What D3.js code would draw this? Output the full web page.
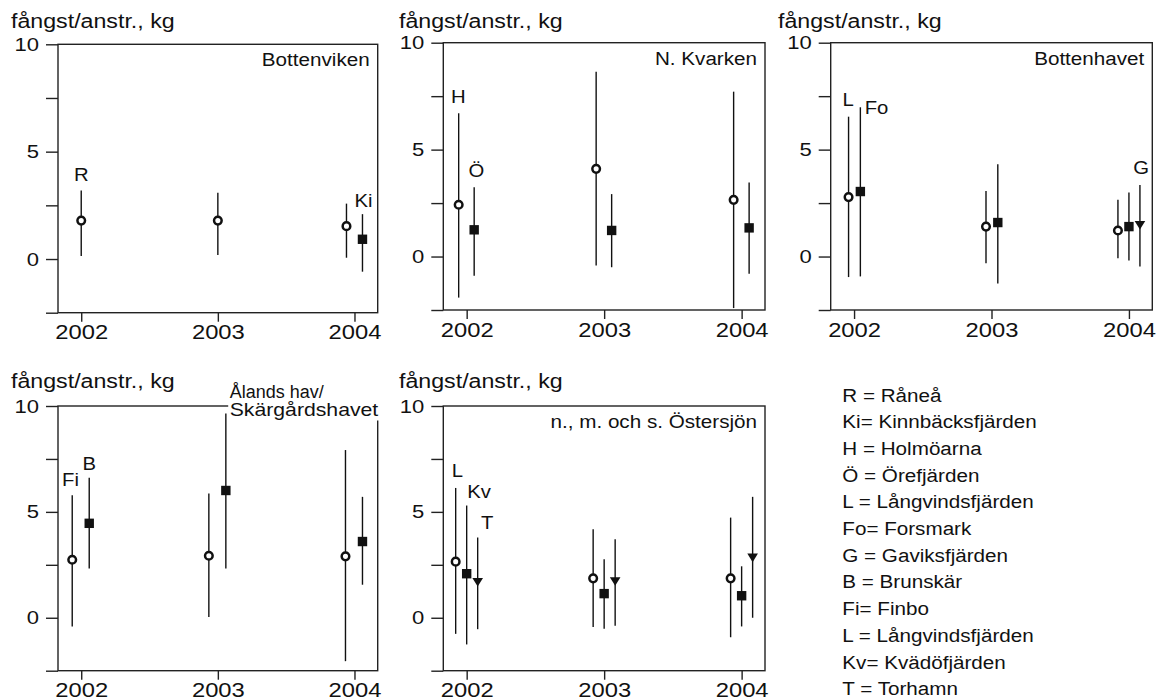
<!DOCTYPE html>
<html>
<head>
<meta charset="utf-8">
<script src="https://cdn.jsdelivr.net/npm/d3@7"></script>
<style>
  body { margin: 0; background: #fff; }
  svg text { font-family: "Liberation Sans", Arial, Helvetica, sans-serif; fill: #111; }
</style>
</head>
<body>
<svg id="chart" width="1167" height="700"></svg>
<script>
// ---- data -------------------------------------------------------------
const years = [2002, 2003, 2004];
const xTickLabels = ["2002", "2003", "2004"];
const yTickValues = [-2.5, 0, 2.5, 5, 7.5, 10];
const yTickLabels = ["", "0", "", "5", "", "10"];
const yAxisTitle = "fångst/anstr., kg";

// Bottenviken
const bottenvikenSites   = ["R", "Ki"];
const bottenvikenMarkers = ["circle", "square"];
const bottenvikenMean = [[1.79, 1.79, 1.53], [null, null, 0.92]];
const bottenvikenLow  = [[0.14, 0.19, 0.06], [null, null, -0.59]];
const bottenvikenHigh = [[3.19, 3.09, 2.58], [null, null, 2.09]];

// N. Kvarken
const kvarkenSites   = ["H", "Ö"];
const kvarkenMarkers = ["circle", "square"];
const kvarkenMean = [[2.42, 4.10, 2.65], [1.25, 1.22, 1.34]];
const kvarkenLow  = [[-1.92, -0.42, -2.41], [-0.90, -0.50, -0.81]];
const kvarkenHigh = [[6.70, 8.64, 7.71], [3.24, 2.92, 3.46]];

// Bottenhavet
const bottenhavetSites   = ["L", "Fo", "G"];
const bottenhavetMarkers = ["circle", "square", "triangle"];
const bottenhavetMean = [[2.78, 1.40, 1.22], [3.04, 1.59, 1.40], [null, null, 1.48]];
const bottenhavetLow  = [[-0.96, -0.31, -0.08], [-0.93, -1.26, -0.19], [null, null, -0.47]];
const bottenhavetHigh = [[6.54, 3.07, 2.65], [6.98, 4.32, 2.99], [null, null, 3.35]];

// Ålands hav / Skärgårdshavet
const alandSites   = ["Fi", "B"];
const alandMarkers = ["circle", "square"];
const alandMean = [[2.74, 2.93, 2.90], [4.46, 6.01, 3.60]];
const alandLow  = [[-0.41, 0.03, -2.05], [2.33, 2.33, 1.56]];
const alandHigh = [[5.79, 5.87, 7.92], [6.61, 9.64, 5.71]];

// n., m. och s. Östersjön
const ostersjonSites   = ["L", "Kv", "T"];
const ostersjonMarkers = ["circle", "square", "triangle"];
const ostersjonMean = [[2.65, 1.86, 1.86], [2.08, 1.14, 1.04], [1.69, 1.73, 2.84]];
const ostersjonLow  = [[-0.76, -0.44, -0.92], [-1.26, -0.52, -0.41], [-0.54, -0.38, 0.00]];
const ostersjonHigh = [[6.13, 4.18, 4.73], [5.30, 2.76, 2.43], [3.79, 3.71, 5.71]];

const regionTitles = [
  ["Bottenviken"],
  ["N. Kvarken"],
  ["Bottenhavet"],
  ["Ålands hav/", "Skärgårdshavet"],
  ["n., m. och s. Östersjön"]
];

const legendLines = [
  "R = Råneå",
  "Ki= Kinnbäcksfjärden",
  "H = Holmöarna",
  "Ö = Örefjärden",
  "L = Långvindsfjärden",
  "Fo= Forsmark",
  "G = Gaviksfjärden",
  "B = Brunskär",
  "Fi= Finbo",
  "L = Långvindsfjärden",
  "Kv= Kvädöfjärden",
  "T = Torhamn"
];

const panels = [
  { sites: bottenvikenSites, markers: bottenvikenMarkers, mean: bottenvikenMean, low: bottenvikenLow, high: bottenvikenHigh },
  { sites: kvarkenSites, markers: kvarkenMarkers, mean: kvarkenMean, low: kvarkenLow, high: kvarkenHigh },
  { sites: bottenhavetSites, markers: bottenhavetMarkers, mean: bottenhavetMean, low: bottenhavetLow, high: bottenhavetHigh },
  { sites: alandSites, markers: alandMarkers, mean: alandMean, low: alandLow, high: alandHigh },
  { sites: ostersjonSites, markers: ostersjonMarkers, mean: ostersjonMean, low: ostersjonLow, high: ostersjonHigh }
];

// ---- layout -----------------------------------------------------------
const SX = 1.16;                 // horizontal stretch applied to all text
const FRAME = "#222";
const INK = "#111";

const panelBoxes = [
  { left: 58,    right: 377.7,  top: 44.3, bottom: 312.7, titleX: 11,  titleY: 28 },
  { left: 443.3, right: 765,    top: 42.7, bottom: 310,   titleX: 399, titleY: 28 },
  { left: 830.7, right: 1152.3, top: 42.7, bottom: 310,   titleX: 778, titleY: 28 },
  { left: 58,    right: 377.7,  top: 406,  bottom: 670.7, titleX: 11,  titleY: 388 },
  { left: 443.3, right: 765,    top: 406,  bottom: 670.7, titleX: 399, titleY: 388 }
];

// horizontal spread (px) of markers sharing a year
const pairOffsets = [[-8, 8], [-8, 7.5], [-5.5, 6.3], [-9, 8], [-8, 8]];
const tripleOffsets = [-11, 0, 11];

// site-code annotations: year, px shift from that year's tick, y value of label centre
const siteLabelPlacement = [
  [[2002, 0, 3.94], [2004, 9, 2.70]],
  [[2002, -8.3, 7.46], [2002, 9.7, 4.02]],
  [[2002, -6, 7.32], [2002, 22.4, 6.95], [2004, 12.3, 4.13]],
  [[2002, -10.7, 6.50], [2002, 8, 7.29]],
  [[2002, -9.4, 6.94], [2002, 12.3, 5.94], [2002, 20.6, 4.48]]
];

const svg = d3.select("#chart");

function addText(parent, tx, ty, str, size, anchor, fitWidth) {
  const t = parent.append("text")
    .attr("transform", `translate(${tx},${ty}) scale(${SX},1)`)
    .attr("text-anchor", anchor || "start")
    .style("font-size", size + "px")
    .text(str);
  if (fitWidth) t.attr("textLength", fitWidth / SX).attr("lengthAdjust", "spacingAndGlyphs");
  return t;
}

const xBase = d3.scaleLinear().domain([2001.83, 2004.17]);
const yBase = d3.scaleLinear().domain([-2.5, 10]);

panels.forEach((p, pi) => {
  const box = panelBoxes[pi];
  const xs = xBase.copy().range([box.left, box.right]);
  const ys = yBase.copy().range([box.bottom, box.top]);
  const g = svg.append("g");

  // y axis
  const yAxis = d3.axisLeft(ys)
    .tickValues(yTickValues)
    .tickFormat((d, i) => yTickLabels[i])
    .tickSize(12)
    .tickPadding(7);
  const ya = g.append("g").attr("transform", `translate(${box.left},0)`).call(yAxis);
  ya.attr("font-size", null).attr("font-family", null);
  ya.select(".domain").remove();
  ya.selectAll(".tick line").attr("stroke", FRAME).attr("stroke-width", 1.4);
  ya.selectAll(".tick text").each(function () {
    const t = d3.select(this);
    t.attr("x", +t.attr("x") / SX).attr("transform", `scale(${SX},1)`)
     .style("font-size", "19px").attr("fill", INK);
  });

  // x axis
  const xAxis = d3.axisBottom(xs)
    .tickValues(years)
    .tickFormat((d, i) => xTickLabels[i])
    .tickSize(9)
    .tickPadding(3);
  const xa = g.append("g").attr("transform", `translate(0,${box.bottom})`).call(xAxis);
  xa.attr("font-size", null).attr("font-family", null);
  xa.select(".domain").remove();
  xa.selectAll(".tick line").attr("stroke", FRAME).attr("stroke-width", 1.4);
  xa.selectAll(".tick text").attr("transform", `scale(${SX},1)`)
    .style("font-size", "20.5px").attr("fill", INK);

  // frame
  g.append("rect")
    .attr("x", box.left).attr("y", box.top)
    .attr("width", box.right - box.left).attr("height", box.bottom - box.top)
    .attr("fill", "none").attr("stroke", FRAME).attr("stroke-width", 1.4);

  // axis title
  addText(g, box.titleX, box.titleY, yAxisTitle, 20, "start");

  // region title
  const lines = regionTitles[pi];
  if (lines.length === 1) {
    addText(g, box.right - 8, box.top + 22, lines[0], 17.8, "end");
  } else {
    // two-line title sits on the frame corner, breaking the top and right edges
    const lx = box.right - 148;
    g.append("rect").attr("x", lx - 1.5).attr("y", box.top - 30)
      .attr("width", box.right - lx + 6).attr("height", 44.5).attr("fill", "#fff");
    addText(g, lx, box.top - 8.2, lines[0], 18, "start", 94);
    addText(g, lx, box.top + 9.7, lines[1], 18.3, "start");
  }

  // marks
  years.forEach((yr, j) => {
    const present = p.mean.map((m, s) => (m[j] == null ? -1 : s)).filter(s => s >= 0);
    const offs = present.length === 1 ? [0] : present.length === 2 ? pairOffsets[pi] : tripleOffsets;
    present.forEach((s, k) => {
      const cx = xs(yr) + offs[k];
      const cy = ys(p.mean[s][j]);
      g.append("line")
        .attr("x1", cx).attr("x2", cx)
        .attr("y1", ys(p.low[s][j])).attr("y2", ys(p.high[s][j]))
        .attr("stroke", INK).attr("stroke-width", 1.4);
      const mk = p.markers[s];
      if (mk === "circle") {
        g.append("circle").attr("cx", cx).attr("cy", cy).attr("r", 3.8)
          .attr("fill", "#fff").attr("stroke", INK).attr("stroke-width", 2.5);
      } else if (mk === "square") {
        g.append("rect").attr("x", cx - 4.7).attr("y", cy - 4.7)
          .attr("width", 9.4).attr("height", 9.4).attr("fill", INK);
      } else {
        g.append("path")
          .attr("d", `M${cx - 5.3},${cy - 4}L${cx + 5.3},${cy - 4}L${cx},${cy + 4.6}Z`)
          .attr("fill", INK);
      }
    });
  });

  // site codes
  p.sites.forEach((code, s) => {
    const [yr, dx, v] = siteLabelPlacement[pi][s];
    addText(g, xs(yr) + dx, ys(v) + 6.2, code, 17.5, "middle");
  });
});

// legend
const legend = svg.append("g");
legendLines.forEach((line, i) => {
  addText(legend, 842.3, 401.5 + i * 26.7, line, 17.8, "start");
});
</script>
</body>
</html>
